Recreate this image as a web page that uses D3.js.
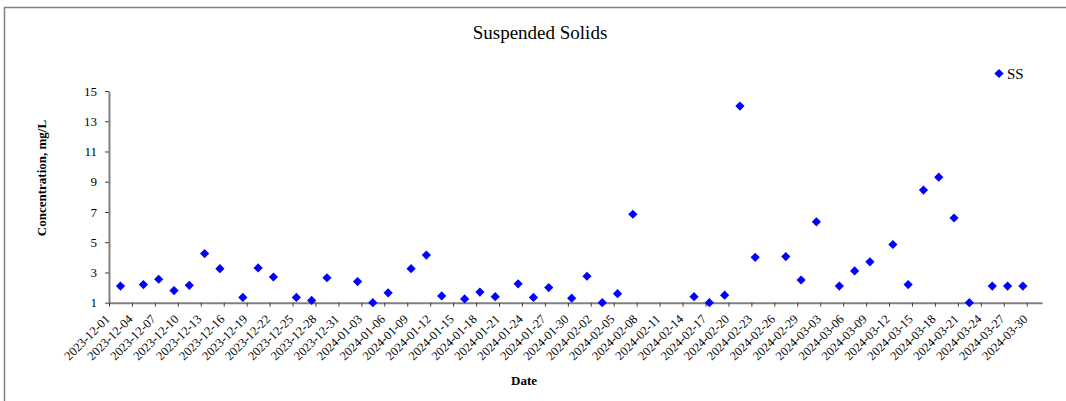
<!DOCTYPE html>
<html>
<head>
<meta charset="utf-8">
<script src="https://cdn.jsdelivr.net/npm/d3@7"></script>
<style>
  html, body { margin: 0; padding: 0; background: #fff; }
  svg { display: block; }
  text { font-family: "Liberation Serif", "Times New Roman", serif; fill: #000; }
</style>
</head>
<body>
<svg id="chart" width="1066" height="401"></svg>
<script>
// ---- data ----
const sampleDates = [
  "2023-12-02","2023-12-05","2023-12-07","2023-12-09","2023-12-11","2023-12-13","2023-12-15",
  "2023-12-18","2023-12-20","2023-12-22","2023-12-25","2023-12-27","2023-12-29",
  "2024-01-02","2024-01-04","2024-01-06","2024-01-09","2024-01-11","2024-01-13","2024-01-16",
  "2024-01-18","2024-01-20","2024-01-23","2024-01-25","2024-01-27","2024-01-30",
  "2024-02-01","2024-02-03","2024-02-05","2024-02-07","2024-02-15","2024-02-17","2024-02-19",
  "2024-02-21","2024-02-23","2024-02-27","2024-02-29",
  "2024-03-02","2024-03-05","2024-03-07","2024-03-09","2024-03-12","2024-03-14","2024-03-16",
  "2024-03-18","2024-03-20","2024-03-22","2024-03-25","2024-03-27","2024-03-29"
];
const ssValues = [
  2.1, 2.2, 2.55, 1.8, 2.15, 4.25, 3.25,
  1.35, 3.3, 2.7, 1.35, 1.15, 2.65,
  2.4, 1.0, 1.65, 3.25, 4.15, 1.45, 1.25,
  1.7, 1.4, 2.25, 1.35, 2.0, 1.3,
  2.75, 1.0, 1.6, 6.85, 1.4, 1.0, 1.5,
  14.0, 4.0, 4.05, 2.5,
  6.35, 2.1, 3.1, 3.7, 4.85, 2.2, 8.45,
  9.3, 6.6, 1.0, 2.1, 2.1, 2.1
];
const xTickLabels = [
  "2023-12-01","2023-12-04","2023-12-07","2023-12-10","2023-12-13","2023-12-16","2023-12-19",
  "2023-12-22","2023-12-25","2023-12-28","2023-12-31","2024-01-03","2024-01-06","2024-01-09",
  "2024-01-12","2024-01-15","2024-01-18","2024-01-21","2024-01-24","2024-01-27","2024-01-30",
  "2024-02-02","2024-02-05","2024-02-08","2024-02-11","2024-02-14","2024-02-17","2024-02-20",
  "2024-02-23","2024-02-26","2024-02-29","2024-03-03","2024-03-06","2024-03-09","2024-03-12",
  "2024-03-15","2024-03-18","2024-03-21","2024-03-24","2024-03-27","2024-03-30"
];
const yTickValues = [1, 3, 5, 7, 9, 11, 13, 15];
const xDomain = ["2023-12-01", "2024-04-01"];
const yDomain = [1, 15];
const seriesName = "SS";
const titleText = "Suspended Solids";
const xTitle = "Date";
const yTitle = "Concentration, mg/L";

// ---- drawing ----
const parse = d3.utcParse("%Y-%m-%d");
const svg = d3.select("#chart");
const plotL = 109, plotR = 1042, plotT = 91, plotB = 302.7;

// outer frame
svg.append("rect")
  .attr("x", 4.5).attr("y", 7.5).attr("width", 1100).attr("height", 500)
  .attr("fill", "none").attr("stroke", "#808080").attr("stroke-width", 1.5);

const x = d3.scaleUtc().domain(xDomain.map(parse)).range([plotL, plotR]);
const y = d3.scaleLinear().domain(yDomain).range([plotB, plotT]);

// y axis
const yAxis = svg.append("g").attr("transform", `translate(${plotL},0)`)
  .call(d3.axisLeft(y).tickValues(yTickValues).tickSize(4).tickPadding(8).tickSizeOuter(0));
yAxis.select(".domain").attr("stroke", "#808080").attr("stroke-width", 2);
yAxis.selectAll(".tick line").attr("stroke", "#404040");
yAxis.selectAll(".tick text")
  .style("font-family", '"Liberation Serif", serif').style("font-size", "13px").attr("fill", "#000");

// x axis
const xAxis = svg.append("g").attr("transform", `translate(0,${plotB})`)
  .call(d3.axisBottom(x).tickValues(xTickLabels.map(parse)).tickSize(4).tickSizeOuter(0)
    .tickFormat(d3.utcFormat("%Y-%m-%d")));
xAxis.select(".domain").attr("stroke", "#808080").attr("stroke-width", 2);
xAxis.selectAll(".tick line").attr("stroke", "#404040");
xAxis.selectAll(".tick text")
  .style("font-family", '"Liberation Serif", serif').style("font-size", "12.5px").attr("fill", "#000")
  .attr("text-anchor", "end")
  .attr("y", 0).attr("dy", "0.35em")
  .attr("transform", "translate(-2,14) rotate(-45)");

// points
const diamond = (cx, cy, r) => `M${cx},${cy - r}L${cx + r},${cy}L${cx},${cy + r}L${cx - r},${cy}Z`;
const halfDay = 12 * 3600 * 1000;
svg.append("g").selectAll("path")
  .data(sampleDates.map((d, i) => ({ date: parse(d), v: ssValues[i] })))
  .join("path")
  .attr("d", d => diamond(x(new Date(+d.date + halfDay)), y(d.v), 4.6))
  .attr("fill", "#0000FF");

// title
svg.append("text").attr("x", 540).attr("y", 39).attr("text-anchor", "middle")
  .style("font-size", "19px").text(titleText);

// axis titles
svg.append("text").attr("x", 524).attr("y", 385).attr("text-anchor", "middle")
  .style("font-size", "13px").style("font-weight", "bold").text(xTitle);
svg.append("text").attr("transform", "translate(46,178) rotate(-90)").attr("text-anchor", "middle")
  .style("font-size", "13px").style("font-weight", "bold").text(yTitle);

// legend
svg.append("path").attr("d", diamond(999, 73.5, 4.6)).attr("fill", "#0000FF");
svg.append("text").attr("x", 1007).attr("y", 79).style("font-size", "15px").text(seriesName);
</script>
</body>
</html>
